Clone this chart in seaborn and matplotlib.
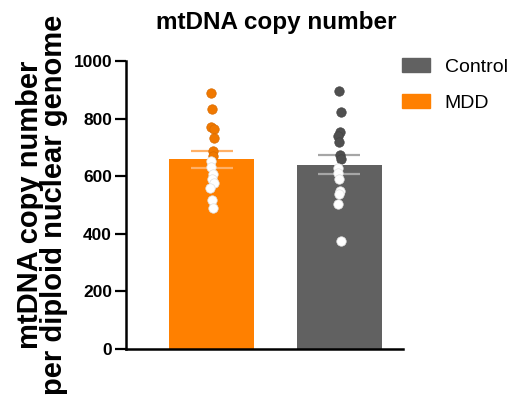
import numpy as np
import matplotlib.pyplot as plt
import matplotlib.patches as mpatches
import pandas as pd
import seaborn as sns

sns.set_style("ticks")
plt.rcParams['font.family'] = ['Liberation Sans', 'DejaVu Sans']
plt.rcParams['text.color'] = 'black'
plt.rcParams['ytick.color'] = 'black'

groups = ["MDD", "Control"]
legend_order = ["Control", "MDD"]
bar_colors = {"MDD": "#FF8000", "Control": "#616161"}
dot_colors = {"MDD": "#F07800", "Control": "#4f4f4f"}
dot_edges = {"MDD": "#d96c00", "Control": "#444444"}
err_colors = {"MDD": "#FFB066", "Control": "#A6A6A6"}

# values
mdd_values = [888, 833, 772, 764, 731, 689, 669, 654, 632, 606, 590, 578, 560, 518, 490]
control_values = [897, 822, 752, 741, 720, 674, 660, 627, 611, 590, 550, 538, 503, 376]
means = [659, 639]
sems = [29, 33]

yticks = [0, 200, 400, 600, 800, 1000]

points = pd.DataFrame({
    "group": ["MDD"] * len(mdd_values) + ["Control"] * len(control_values),
    "value": mdd_values + control_values,
})
summary = pd.DataFrame({"group": groups, "mean": means, "sem": sems})
points["above"] = points.apply(
    lambda r: r["value"] > summary.set_index("group").loc[r["group"], "mean"], axis=1)

fig = plt.figure(figsize=(5.1, 3.99), dpi=100)
ax = fig.add_axes([126 / 510, 1 - 349 / 399, (403 - 126) / 510, (349 - 61) / 399])

sns.barplot(data=summary, x="group", y="mean", hue="group", order=groups,
            palette=bar_colors, width=0.667, legend=False, ax=ax, saturation=1,
            edgecolor="none", errorbar=None)

for i, g in enumerate(groups):
    ax.errorbar(i, means[i], yerr=sems[i], color=err_colors[g], capsize=15,
                elinewidth=1.6, capthick=1.6, zorder=3)

for g in groups:
    sub = points[(points["group"] == g) & points["above"]]
    sns.stripplot(data=sub, x="group", y="value", order=groups, color=dot_colors[g],
                  jitter=0.015, size=6.8, linewidth=0.5, edgecolor=dot_edges[g],
                  legend=False, ax=ax, zorder=4)
sns.stripplot(data=points[~points["above"]], x="group", y="value", order=groups,
              color="white", jitter=0.015, size=6.8, linewidth=0.5,
              edgecolor="#e0e0e0", legend=False, ax=ax, zorder=4)

ax.set_xlim(-0.675, 1.5)
ax.set_ylim(0, 1000)
ax.set_yticks(yticks)
ax.set_xticks([])
ax.set_xlabel("")
ax.set_ylabel("")
for lab in ax.get_yticklabels():
    lab.set_fontweight("bold")
ax.tick_params(axis="y", length=8, width=1.6, labelsize=12.5, pad=2,
               color="black", labelcolor="black")
sns.despine(ax=ax)
ax.spines["left"].set_linewidth(1.8)
ax.spines["bottom"].set_linewidth(1.8)
ax.spines["left"].set_color("black")
ax.spines["bottom"].set_color("black")

fig.text(276 / 510, 1 - 22 / 399, "mtDNA copy number", ha="center", va="center",
         fontsize=17.5, fontweight="bold")
fig.text(42 / 510, 1 - 205 / 399, "mtDNA copy number\nper diploid nuclear genome",
         rotation=90, ha="center", va="center", multialignment="center",
         fontsize=21, fontweight="bold", linespacing=0.82)

handles = [mpatches.Patch(color=bar_colors[g], label=g) for g in legend_order]
fig.legend(handles=handles, loc="upper left", bbox_to_anchor=(402 / 510, 1 - 58 / 399),
           frameon=False, fontsize=14, handlelength=1.45, handleheight=0.7,
           handletextpad=0.75, labelspacing=0.95, borderpad=0, borderaxespad=0)

fig.savefig("out.png", dpi=100)
